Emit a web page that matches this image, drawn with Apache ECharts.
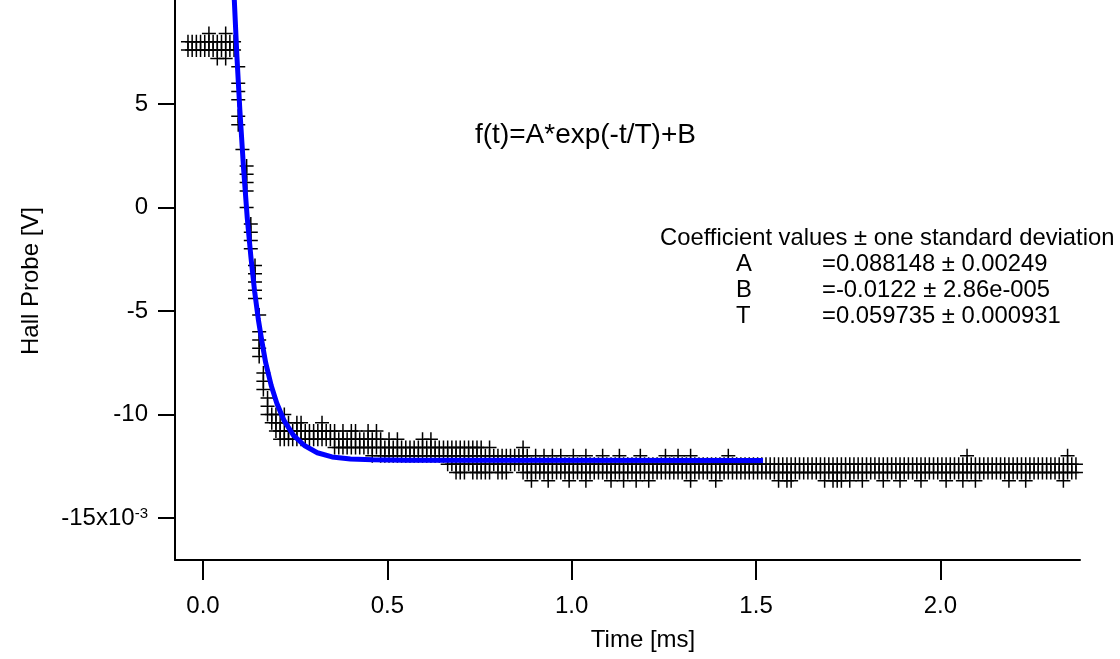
<!DOCTYPE html>
<html><head><meta charset="utf-8">
<script src="https://cdn.jsdelivr.net/npm/echarts@6/dist/echarts.min.js"></script>
<style>html,body{margin:0;padding:0;background:#fff}#c{width:1120px;height:659px}</style>
</head><body><div id="c"></div>
<script>
// Wave scaling of the sampled record (ms)
const sampleStart = -0.0407;
const sampleStep = 0.01136;
// Hall probe readings per sample time (x10^-3 V), several readings per time stamp
const hallColumns = [
[8.0,7.6],[8.0,7.6],[8.0,7.6],[8.0,7.6],[8.0,7.6],[8.4,8.0,7.6],[8.0,7.6],[8.0,7.6,7.2],[8.0,7.6],[8.4,8.0,7.6,7.2],
[8.0,7.6],[8.0,7.6],[6.8,6.0,5.6,5.2,4.4,4.0],[2.8],[2.0,1.6,1.2,0.8,0.0],[-0.8,-1.2,-1.6,-2.0],[-2.8,-3.2,-3.6,-4.0,-4.4],[-5.2,-6.0,-6.4,-6.8,-7.2],[-8.0,-8.4,-8.8],[-9.2,-9.6,-10.0],
[-10.0,-10.4],[-10.0,-10.4,-10.8],[-10.4,-10.8,-11.2],[-10.0,-10.8,-11.2],[-10.4,-10.8,-11.2],[-10.8,-11.2],[-10.4,-10.8,-11.2],[-10.4,-10.8,-11.2],[-10.8,-11.2],[-10.8,-11.2],
[-10.8,-11.2],[-10.8,-11.2],[-10.4,-10.8,-11.2],[-10.8,-11.2],[-10.8,-11.2],[-10.8,-11.2,-11.6],[-11.2,-11.6],[-10.8,-11.2,-11.6],[-11.2,-11.6],[-10.8,-11.2,-11.6],
[-10.8,-11.2,-11.6],[-11.2,-11.6],[-11.2,-11.6],[-10.8,-11.2,-11.6],[-11.2,-11.6,-12.0],[-10.8,-11.2,-11.6],[-11.2,-11.6,-12.0],[-11.6,-12.0],[-11.2,-11.6,-12.0],[-11.6,-12.0],
[-11.2,-11.6,-12.0],[-11.6,-12.0],[-11.6,-12.0],[-11.6,-12.0],[-11.6,-12.0],[-11.6,-12.0],[-11.2,-11.6,-12.0],[-11.6,-12.0],[-11.2,-11.6,-12.0],[-11.6,-12.0],
[-11.6,-12.0],[-11.6,-12.0],[-11.6,-12.0,-12.4],[-11.6,-12.0,-12.4],[-11.6,-12.0,-12.4,-12.8],[-11.6,-12.0,-12.4,-12.8],[-11.6,-12.0,-12.4,-12.8],[-11.6,-12.0,-12.4],[-11.6,-12.0,-12.4,-12.8],[-11.6,-12.0,-12.4,-12.8],
[-11.6,-12.0,-12.4,-12.8],[-12.0,-12.4,-12.8],[-11.6,-12.0,-12.4,-12.8],[-12.0,-12.4],[-12.0,-12.4,-12.8],[-12.0,-12.4,-12.8],[-12.0,-12.4,-12.8],[-12.0,-12.4],[-12.0,-12.4],[-12.0,-12.4],
[-11.6,-12.0,-12.4,-12.8],[-12.0,-12.4,-12.8],[-12.4,-12.8,-13.2],[-12.0,-12.4,-12.8],[-12.4,-12.8],[-12.0,-12.4,-12.8],[-12.4,-12.8,-13.2],[-12.0,-12.4,-12.8],[-12.4,-12.8],[-12.0,-12.4,-12.8],
[-12.4,-12.8],[-12.4,-12.8,-13.2],[-12.0,-12.4,-12.8],[-12.4,-12.8],[-12.4,-12.8],[-12.0,-12.4,-12.8,-13.2],[-12.4,-12.8],[-12.4,-12.8],[-12.4,-12.8],[-12.0,-12.4,-12.8],
[-12.4,-12.8],[-12.4,-12.8,-13.2],[-12.4,-12.8],[-12.0,-12.4,-12.8],[-12.4,-12.8,-13.2],[-12.4,-12.8],[-12.4,-12.8],[-12.4,-12.8,-13.2],[-12.0,-12.4,-12.8],[-12.4,-12.8],
[-12.4,-12.8,-13.2],[-12.4,-12.8],[-12.4,-12.8],[-12.4,-12.8],[-12.0,-12.4,-12.8],[-12.4,-12.8],[-12.4,-12.8],[-12.0,-12.4,-12.8],[-12.4,-12.8],[-12.4,-12.8],
[-12.0,-12.4,-12.8,-13.2],[-12.4,-12.8],[-12.4,-12.8],[-12.4,-12.8],[-12.4,-12.8],[-12.4,-12.8],[-12.4,-12.8,-13.2],[-12.4,-12.8],[-12.4,-12.8],[-12.0,-12.4,-12.8],
[-12.4,-12.8],[-12.4,-12.8],[-12.4,-12.8],[-12.4,-12.8],[-12.4,-12.8],[-12.4,-12.8],[-12.4,-12.8],[-12.4,-12.8],[-12.4,-12.8],[-12.4,-12.8],
[-12.4,-12.8],[-12.4,-12.8,-13.2],[-12.4,-12.8],[-12.4,-12.8,-13.2],[-12.4,-12.8,-13.2],[-12.4,-12.8],[-12.4,-12.8],[-12.4,-12.8],[-12.4,-12.8],[-12.4,-12.8],
[-12.4,-12.8],[-12.4,-12.8],[-12.4,-12.8,-13.2],[-12.4,-12.8],[-12.4,-12.8,-13.2],[-12.4,-12.8,-13.2],[-12.4,-12.8,-13.2],[-12.4,-12.8],[-12.4,-12.8,-13.2],[-12.4,-12.8],
[-12.4,-12.8],[-12.4,-12.8,-13.2],[-12.4,-12.8],[-12.4,-12.8],[-12.4,-12.8],[-12.4,-12.8],[-12.4,-12.8,-13.2],[-12.4,-12.8],[-12.4,-12.8],[-12.4,-12.8],
[-12.4,-12.8,-13.2],[-12.4,-12.8],[-12.4,-12.8],[-12.4,-12.8],[-12.4,-12.8],[-12.4,-12.8,-13.2],[-12.4,-12.8],[-12.4,-12.8],[-12.4,-12.8],[-12.4,-12.8],
[-12.4,-12.8],[-12.4,-12.8,-13.2],[-12.4,-12.8],[-12.4,-12.8],[-12.4,-12.8],[-12.4,-12.8,-13.2],[-12.0,-12.4,-12.8],[-12.4,-12.8],[-12.4,-12.8,-13.2],[-12.4,-12.8],
[-12.4,-12.8],[-12.4,-12.8],[-12.4,-12.8],[-12.4,-12.8],[-12.4,-12.8],[-12.4,-12.8],[-12.4,-12.8,-13.2],[-12.4,-12.8],[-12.4,-12.8],[-12.4,-12.8],
[-12.4,-12.8,-13.2],[-12.4,-12.8],[-12.4,-12.8],[-12.4,-12.8],[-12.4,-12.8],[-12.4,-12.8],[-12.4,-12.8],[-12.4,-12.8],[-12.4,-12.8],[-12.4,-12.8,-13.2],
[-12.0,-12.4,-12.8],[-12.4,-12.8],[-12.4,-12.8]
];
// Fitted curve (ms, x10^-3 V)
const fitTime = [0.078, 0.085, 0.092, 0.100, 0.110, 0.120, 0.130, 0.140, 0.150, 0.160, 0.170, 0.185, 0.200, 0.220, 0.245, 0.275, 0.310, 0.350, 0.400, 0.460, 0.550, 1.519];
const fitValue = [13.0, 10.0, 7.3, 4.7, 1.9, -0.5, -2.4, -4.05, -5.4, -6.5, -7.5, -8.6, -9.45, -10.3, -11.0, -11.5, -11.85, -12.05, -12.15, -12.19, -12.21, -12.22];
// Axes
const xRange = [-0.0759, 2.3786];
const yRange = [-17.03, 10.02];
const xTickValues = [0, 0.5, 1.0, 1.5, 2.0];
const yTickValues = [-15, -10, -5, 0, 5];
// Texts
const formulaText = 'f(t)=A*exp(-t/T)+B';
const coefTitle = 'Coefficient values \u00b1 one standard deviation';
const coefNames = ['A', 'B', 'T'];
const coefValues = ['=0.088148 \u00b1 0.00249', '=-0.0122 \u00b1 2.86e-005', '=0.059735 \u00b1 0.000931'];
const xTitle = 'Time [ms]';
const yTitle = 'Hall Probe [V]';

const FONT = '"Liberation Sans", Arial, Helvetica, sans-serif';
const hallPoints = [];
hallColumns.forEach((col, k) => {
  const t = sampleStart + k * sampleStep;
  col.forEach(v => hallPoints.push([t, v]));
});
const fitPoints = fitTime.map((t, i) => [t, fitValue[i]]);

const chart = echarts.init(document.getElementById('c'), null, {renderer: 'canvas'});
const txt = (x, y, text, size, extra) => Object.assign({
  type: 'text', x: x, y: y, silent: true,
  style: {text: text, fill: '#000', font: size + 'px ' + FONT, align: 'left', verticalAlign: 'middle'}
}, extra || {});
const coefGraphics = [txt(660, 238, coefTitle, 23.8)];
coefNames.forEach((n, i) => {
  coefGraphics.push(txt(736, 264 + i * 26.3, n, 23.8));
  coefGraphics.push(txt(822, 264 + i * 26.3, coefValues[i], 23.8));
});
const yTitleG = txt(31, 281, yTitle, 24, {rotation: Math.PI / 2});
yTitleG.style.align = 'center';
const xTitleG = txt(643, 640, xTitle, 24);
xTitleG.style.align = 'center';

chart.setOption({
  animation: false,
  backgroundColor: '#ffffff',
  grid: {left: 175, right: 40, top: 0, bottom: 99, containLabel: false},
  xAxis: {
    type: 'value', min: xRange[0], max: xRange[1],
    axisLine: {show: true, onZero: false, lineStyle: {color: '#000', width: 2}},
    axisTick: {show: true, length: 20, customValues: xTickValues, lineStyle: {color: '#000', width: 2}},
    axisLabel: {customValues: xTickValues, formatter: v => v.toFixed(1), fontSize: 24, fontFamily: FONT, color: '#000', margin: 34},
    splitLine: {show: false}
  },
  yAxis: {
    type: 'value', min: yRange[0], max: yRange[1],
    axisLine: {show: true, onZero: false, lineStyle: {color: '#000', width: 2}},
    axisTick: {show: true, length: 17, customValues: yTickValues, lineStyle: {color: '#000', width: 2}},
    axisLabel: {
      customValues: yTickValues, fontSize: 24, fontFamily: FONT, color: '#000', margin: 27,
      formatter: v => v === -15 ? '{b|-15x10}{s|-3}' : String(v),
      rich: {
        b: {fontSize: 24, fontFamily: FONT, color: '#000', lineHeight: 24, verticalAlign: 'bottom'},
        s: {fontSize: 15, fontFamily: FONT, color: '#000', lineHeight: 15, verticalAlign: 'top', padding: [0, 0, 16, 0]}
      }
    },
    splitLine: {show: false}
  },
  series: [
    {
      type: 'scatter', data: hallPoints, silent: true,
      symbol: 'path://M0,-1L0,1M-1,0L1,0', symbolSize: 14,
      itemStyle: {color: 'none', borderColor: '#000', borderWidth: 1.5, opacity: 1},
      emphasis: {disabled: true}
    },
    {
      type: 'line', data: fitPoints, silent: true, showSymbol: false,
      smooth: false,
      lineStyle: {color: '#0000ff', width: 5, join: 'round'},
      emphasis: {disabled: true}
    }
  ],
  graphic: [txt(475, 135, formulaText, 28)].concat(coefGraphics, [xTitleG, yTitleG])
});
</script>
</body></html>
